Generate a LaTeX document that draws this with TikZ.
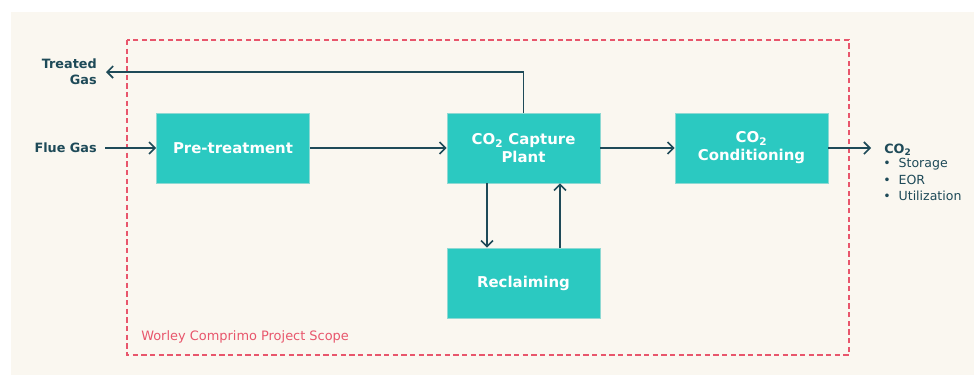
\documentclass[tikz,border=0pt]{standalone}
\usepackage{fontspec}
\setmainfont{DejaVu Sans}
\usetikzlibrary{arrows.meta,calc}
\definecolor{bgcream}{HTML}{FAF7F0}
\definecolor{boxteal}{HTML}{2BC9C1}
\definecolor{boxedge}{HTML}{8ED9D3}
\definecolor{darkline}{HTML}{1E4A58}
\definecolor{scopered}{HTML}{E8566C}
\tikzset{
  procbox/.style={draw=boxedge, line width=0.5pt, fill=boxteal, minimum width=153*0.75pt, minimum height=70*0.75pt, inner sep=0pt, align=center, text=white, font=\fontsize{11.2}{13.5}\selectfont\bfseries},
  flow/.style={draw=darkline, line width=1.3pt, -{Straight Barb[length=4.5pt,width=9pt,line width=1.2pt]}},
  sidelabel/.style={text=darkline, font=\fontsize{9.6}{12}\selectfont\bfseries, inner sep=0pt, align=right},
  outlabel/.style={text=darkline, font=\fontsize{9.4}{11.6}\selectfont, inner sep=0pt, anchor=west}
}
\begin{document}
\begin{tikzpicture}[x=0.75pt,y=-0.75pt]
\useasboundingbox (0,0) rectangle (974,375);
\fill[bgcream] (11,12) rectangle (974,375);
\draw[scopered, line width=0.9pt, dash pattern=on 4pt off 2.5pt] (127,40) rectangle (849,355);
\node[text=scopered, font=\fontsize{9.7}{12}\selectfont, anchor=west, inner sep=0pt] (scope) at (141,337) {Worley Comprimo Project Scope};

\node[procbox] (pre) at (233,148) {Pre-treatment};
\node[procbox] (cap) at (523.5,148) {CO\textsubscript{2} Capture\\Plant};
\node[procbox] (cond) at (751.5,148) {CO\textsubscript{2}\\Conditioning};
\node[procbox] (rec) at (523.5,283) {Reclaiming};

\node[sidelabel, anchor=east] (flue) at (97,148) {Flue Gas};
\node[sidelabel, anchor=east] (treated) at (97,72) {Treated\\Gas};

\node[outlabel, font=\fontsize{9.6}{12}\selectfont\bfseries] (co2) at (884,150) {CO\textsubscript{2}};
\node[outlabel] (b1) at (883,164) {•\hspace{6pt}Storage};
\node[outlabel] (b2) at (883,180) {•\hspace{6pt}EOR};
\node[outlabel] (b3) at (883,196) {•\hspace{6pt}Utilization};

\coordinate (tgend) at (106,72);
\coordinate (flueStart) at (105,148);
\coordinate (co2end) at (871,148);

\draw[flow] (flueStart) -- (pre.west);
\draw[flow] (pre.east) -- (cap.west);
\draw[flow] (cap.east) -- (cond.west);
\draw[flow] (cond.east) -- (co2end);
\draw[flow] (cap.north) |- (tgend);
\draw[flow] ($(cap.south)+(-36.5,0)$) -- ($(rec.north)+(-36.5,0)$);
\draw[flow] ($(rec.north)+(36.5,0)$) -- ($(cap.south)+(36.5,0)$);
\end{tikzpicture}
\end{document}
